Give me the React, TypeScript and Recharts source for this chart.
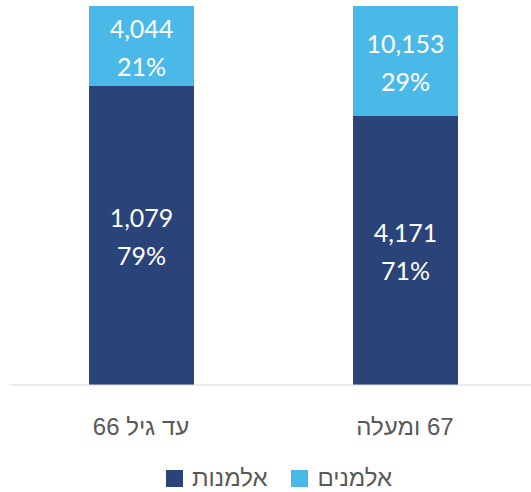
import { Bar, BarChart, LabelList, XAxis, YAxis } from "recharts";

// Widows vs widowers by age group, 100% stacked
const categories = ["עד גיל 66", "67 ומעלה"];
const widowsPct = [79, 71]; // אלמנות
const widowersPct = [21, 29]; // אלמנים
const widowsCount = [1079, 4171];
const widowersCount = [4044, 10153];
const seriesNames = ["אלמנות", "אלמנים"];

const DARK = "#2A4479";
const LIGHT = "#4BB9E8";
const NUM_FONT = "Lato, 'Open Sans', 'DejaVu Sans', sans-serif";
const HEB_FONT = "'Liberation Sans', Arial, 'DejaVu Sans', sans-serif";

const data = categories.map((c, i) => ({
  name: c,
  widows: widowsPct[i],
  widowers: widowersPct[i],
}));

function makeLabel(counts: number[], pcts: number[]) {
  return (props: any) => {
    const { x, y, width, height, index } = props;
    const cx = Number(x) + Number(width) / 2;
    const cy = Number(y) + Number(height) / 2;
    return (
      <g>
        <text x={cx} y={cy - 18} textAnchor="middle" dominantBaseline="central" fill="#fff" fontSize={25} fontFamily={NUM_FONT}>
          {counts[index].toLocaleString("en-US")}
        </text>
        <text x={cx} y={cy + 20} textAnchor="middle" dominantBaseline="central" fill="#fff" fontSize={25} fontFamily={NUM_FONT}>
          {`${pcts[index]}%`}
        </text>
      </g>
    );
  };
}

// Hebrew category labels, right-to-left
function CategoryTick(props: any) {
  const { x, y, payload } = props;
  return (
    <text
      x={x}
      y={y + 33}
      textAnchor="middle"
      dominantBaseline="central"
      fill="#595959"
      fontSize={24}
      fontFamily={HEB_FONT}
      direction="rtl"
      style={{ direction: "rtl", unicodeBidi: "embed" }}
    >
      {payload.value}
    </text>
  );
}

export default function App() {
  return (
    <div style={{ position: "absolute", left: 0, top: 0, width: 531, height: 492, overflow: "hidden", background: "#fff" }}>
      <BarChart width={537} height={450} data={data} margin={{ top: 6, right: 0, left: 9, bottom: 0 }} barSize={105}>
        <XAxis
          dataKey="name"
          height={65}
          tickLine={false}
          axisLine={{ stroke: "#d9d9d9", strokeWidth: 1 }}
          tick={<CategoryTick />}
          interval={0}
        />
        <YAxis hide domain={[0, 100]} />
        <Bar dataKey="widows" stackId="a" fill={DARK} isAnimationActive={false}>
          <LabelList content={makeLabel(widowsCount, widowsPct)} />
        </Bar>
        <Bar dataKey="widowers" stackId="a" fill={LIGHT} isAnimationActive={false}>
          <LabelList content={makeLabel(widowersCount, widowersPct)} />
        </Bar>
      </BarChart>
      <div style={{ position: "absolute", top: 465, left: 166, display: "flex", alignItems: "center", gap: 24, fontFamily: HEB_FONT, fontSize: 24, color: "#595959" }}>
        {seriesNames.map((n, i) => (
          <div key={n} style={{ display: "flex", alignItems: "center", gap: 9 }}>
            <span style={{ display: "inline-block", width: 17, height: 17, background: i === 0 ? DARK : LIGHT }} />
            <span style={{ lineHeight: "26px" }}>{n}</span>
          </div>
        ))}
      </div>
    </div>
  );
}
